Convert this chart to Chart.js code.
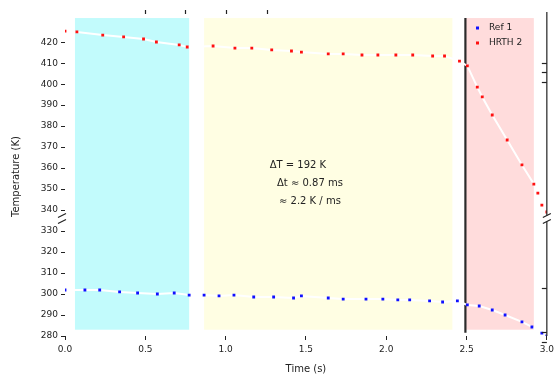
<!DOCTYPE html>
<html>
<head>
<meta charset="utf-8">
<script src="https://cdn.jsdelivr.net/npm/chart.js@4"></script>
<style>
  html, body { margin: 0; padding: 0; background: #fff; }
  #wrap { width: 558px; height: 379px; }
</style>
</head>
<body>
<div id="wrap"><canvas id="myChart" width="558" height="379"></canvas></div>
<script>
// series 1 (blue) - time (s), temperature (K)
const timeA = [0, 0.124, 0.216, 0.340, 0.452, 0.575, 0.680, 0.773, 0.866, 0.959, 1.052, 1.175, 1.299, 1.423, 1.472, 1.639, 1.732, 1.874, 1.979, 2.072, 2.146, 2.270, 2.351, 2.443, 2.505, 2.579, 2.660, 2.740, 2.845, 2.907, 2.969, 3.0];
const tempA = [301.9, 301.9, 301.9, 301.0, 300.5, 300.0, 300.5, 299.5, 299.5, 299.1, 299.5, 298.6, 298.6, 298.1, 299.1, 298.1, 297.6, 297.6, 297.6, 297.2, 297.2, 296.7, 296.2, 296.7, 294.8, 294.3, 292.4, 290.0, 286.7, 284.3, 281.4, 280.0];

// series 2 (red)
const timeB = [0, 0.074, 0.235, 0.365, 0.489, 0.569, 0.711, 0.761, 0.922, 1.058, 1.163, 1.287, 1.410, 1.472, 1.639, 1.732, 1.849, 1.948, 2.060, 2.165, 2.289, 2.363, 2.456, 2.505, 2.567, 2.598, 2.660, 2.753, 2.845, 2.919, 2.944, 2.969, 3.0];
const tempB = [425.3, 424.9, 423.4, 422.5, 421.5, 420.1, 418.7, 417.7, 418.2, 417.2, 417.2, 416.3, 415.8, 415.3, 414.4, 414.4, 413.9, 413.9, 413.9, 413.9, 413.4, 413.4, 411.0, 408.7, 398.6, 393.9, 385.3, 373.4, 361.5, 352.4, 348.1, 342.4, 339.1];

const seriesNames = ['Ref 1', 'HRTH 2'];

// shaded phases [start, end, colour]
const phases = [
  [0.062, 0.773, '#c2fbfc'],
  [0.866, 2.412, '#fffee3'],
  [2.493, 2.919, '#ffdcdc']
];
const markerTime = 2.493;

const xTicks = [0, 0.5, 1.0, 1.5, 2.0, 2.5, 3.0];
const topTicks = [0.495, 0.748, 1.002, 1.256];
const rightTicks = [410, 406, 401, 303, 282, 277];

const note = ['ΔT = 192 K', 'Δt ≈ 0.87 ms', '≈ 2.2 K / ms'];

function pts(xs, ys) {
  return xs.map((x, i) => ({ x: x, y: ys[i] }));
}

const decor = {
  id: 'decor',
  beforeDatasetsDraw(chart) {
    const c = chart.ctx, a = chart.chartArea;
    const x = chart.scales.x, y = chart.scales.y;
    const top = y.getPixelForValue(431.5), bot = y.getPixelForValue(283);
    c.save();
    phases.forEach(p => {
      c.fillStyle = p[2];
      const l = x.getPixelForValue(p[0]), r = x.getPixelForValue(p[1]);
      c.fillRect(l, top, r - l, bot - top);
    });
    // vertical marker
    c.strokeStyle = '#2b2b2b';
    c.lineWidth = 2.2;
    const mx = x.getPixelForValue(markerTime);
    c.beginPath();
    c.moveTo(mx, top);
    c.lineTo(mx, y.getPixelForValue(281.5));
    c.stroke();
    // annotation
    c.fillStyle = '#222';
    c.font = '10px "DejaVu Sans"';
    c.textAlign = 'center';
    const cx = x.getPixelForValue(1.5);
    note.forEach((t, i) => c.fillText(t, cx + (i === 0 ? -8 : 4), y.getPixelForValue(360) + i * 18));
    c.restore();
  },
  afterDraw(chart) {
    const c = chart.ctx, a = chart.chartArea;
    const x = chart.scales.x, y = chart.scales.y;
    c.save();
    // right spine
    c.strokeStyle = '#222';
    c.lineWidth = 1.2;
    c.beginPath();
    c.moveTo(a.right, 12);
    c.lineTo(a.right, a.bottom);
    c.stroke();
    rightTicks.forEach(v => {
      const py = Math.round(y.getPixelForValue(v)) + 0.5;
      c.beginPath();
      c.moveTo(a.right - 5, py);
      c.lineTo(a.right, py);
      c.stroke();
    });
    // top ticks
    topTicks.forEach(v => {
      const px = Math.round(x.getPixelForValue(v)) + 0.5;
      c.beginPath();
      c.moveTo(px, 10);
      c.lineTo(px, 14);
      c.stroke();
    });
    // axis breaks
    const by = y.getPixelForValue(336);
    [a.left - 3, a.right].forEach(bx => {
      c.fillStyle = '#fff';
      c.fillRect(bx - 4, by - 3, 8, 6);
      c.beginPath();
      c.moveTo(bx - 4, by - 1); c.lineTo(bx + 4, by - 5);
      c.moveTo(bx - 4, by + 5); c.lineTo(bx + 4, by + 1);
      c.stroke();
    });
    // legend
    c.font = '9px "DejaVu Sans"';
    c.textBaseline = 'middle';
    chart.data.datasets.forEach((d, i) => {
      const ly = 28 + i * 15;
      c.fillStyle = d.pointBackgroundColor;
      c.fillRect(476, ly - 1.5, 3, 3);
      c.fillStyle = '#222';
      c.fillText(d.label, 489, ly);
    });
    c.restore();
  }
};

const ctx = document.getElementById('myChart').getContext('2d');

const myChart = new Chart(ctx, {
  type: 'scatter',
  data: {
    datasets: [{
      label: seriesNames[0],
      data: pts(timeA, tempA),
      showLine: true,
      borderColor: '#ffffff',
      borderWidth: 2,
      pointStyle: 'rect',
      pointRadius: 2,
      pointBorderWidth: 0,
      pointBackgroundColor: '#1010ff'
    }, {
      label: seriesNames[1],
      data: pts(timeB, tempB),
      showLine: true,
      borderColor: '#ffffff',
      borderWidth: 2,
      pointStyle: 'rect',
      pointRadius: 2,
      pointBorderWidth: 0,
      pointBackgroundColor: '#ff1010'
    }]
  },
  options: {
    responsive: false,
    animation: false,
    layout: { padding: { left: 6, right: 8, top: 17, bottom: 0 } },
    plugins: {
      legend: { display: false },
      tooltip: { enabled: false }
    },
    scales: {
      x: {
        type: 'linear',
        min: 0,
        max: 3,
        afterBuildTicks: s => { s.ticks = xTicks.map(v => ({ value: v })); },
        afterFit: s => { s.height = 43; },
        grid: { drawOnChartArea: false, tickLength: 4, color: '#222' },
        border: { display: false },
        ticks: { color: '#222', font: { size: 9, family: 'DejaVu Sans' }, padding: 4, callback: v => v.toFixed(1) },
        title: { display: true, text: 'Time (s)', color: '#222', font: { size: 10, family: 'DejaVu Sans' }, padding: { top: 2 } }
      },
      y: {
        min: 280,
        max: 432,
        afterBuildTicks: s => { s.ticks = s.ticks.filter(t => t.value % 10 === 0); },
        afterFit: s => { s.width = 59; },
        grid: { drawOnChartArea: false, tickLength: 4, color: '#222' },
        border: { display: false },
        ticks: { stepSize: 10, color: '#222', font: { size: 9, family: 'DejaVu Sans' }, padding: 3 },
        title: { display: true, text: 'Temperature (K)', color: '#222', font: { size: 10, family: 'DejaVu Sans' }, padding: { bottom: 2 } }
      }
    }
  },
  plugins: [decor]
});
</script>
</body>
</html>
